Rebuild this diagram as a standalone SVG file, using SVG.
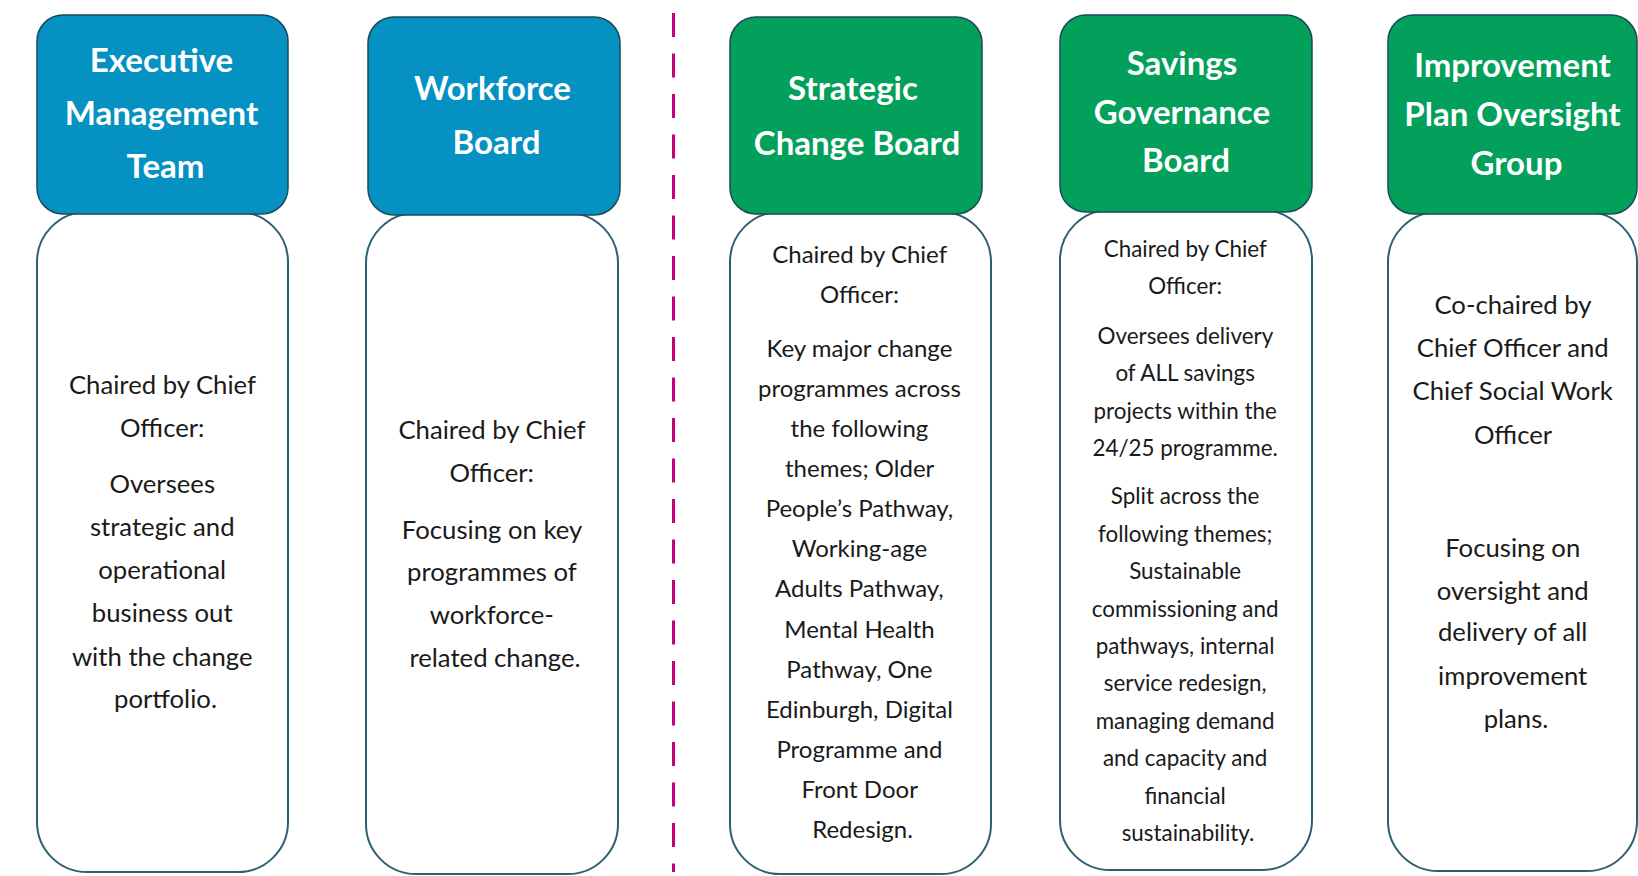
<svg xmlns="http://www.w3.org/2000/svg" width="1638" height="876" viewBox="0 0 1638 876">
  <style>
    .hdr-blue { fill: #0591C1; stroke: #1A4A5C; stroke-width: 1.5; }
    .hdr-green { fill: #03A05B; stroke: #1A4A5C; stroke-width: 1.5; }
    .body { fill: #FFFFFF; stroke: #2F5F73; stroke-width: 2; }
    .ht { font-family: Lato, "Liberation Sans", sans-serif; font-weight: 700; font-size: 33px; fill: #FFFFFF; text-anchor: middle; }
    .bt { font-family: Lato, "Liberation Sans", sans-serif; font-size: 25.7px; fill: #1A1A1A; text-anchor: middle; }
    .bt-m { font-size: 24px; }
    .bt-s { font-size: 22.4px; }
    .divider { stroke: #C4007A; stroke-width: 3; stroke-dasharray: 24 16.5; fill: none; }
  </style>

  <rect width="1638" height="876" fill="#FFFFFF"/>

  <!-- separator between the two groups of boards -->
  <g id="connectors">
    <line class="divider" x1="673.5" y1="13" x2="673.5" y2="872"/>
  </g>

  <!-- Executive Management Team -->
  <g id="executive-management-team">
    <rect class="body" x="37" y="212" width="251" height="660" rx="50" ry="50"/>
    <rect class="hdr-blue" x="37" y="15" width="251" height="199" rx="26" ry="26"/>
    <text class="ht">
      <tspan x="165.5" y="72">Executive</tspan>
      <tspan x="165.5" y="125">Management</tspan>
      <tspan x="165.5" y="178">Team</tspan>
    </text>
    <text class="bt">
      <tspan x="165.5" y="394">Chaired by Chief</tspan>
      <tspan x="165.5" y="437">Officer:</tspan>
      <tspan x="165.5" y="493">Oversees</tspan>
      <tspan x="165.5" y="536">strategic and</tspan>
      <tspan x="165.5" y="579">operational</tspan>
      <tspan x="165.5" y="622">business out</tspan>
      <tspan x="165.5" y="666">with the change</tspan>
      <tspan x="165.5" y="708">portfolio.</tspan>
    </text>
  </g>

  <!-- Workforce Board -->
  <g id="workforce-board">
    <rect class="body" x="366" y="213" width="252" height="661" rx="50" ry="50"/>
    <rect class="hdr-blue" x="368" y="17" width="252" height="198" rx="26" ry="26"/>
    <text class="ht">
      <tspan x="496.5" y="100">Workforce</tspan>
      <tspan x="496.5" y="154">Board</tspan>
    </text>
    <text class="bt">
      <tspan x="495" y="439">Chaired by Chief</tspan>
      <tspan x="495" y="482">Officer:</tspan>
      <tspan x="495" y="539">Focusing on key</tspan>
      <tspan x="495" y="581">programmes of</tspan>
      <tspan x="495" y="624">workforce-</tspan>
      <tspan x="495" y="667">related change.</tspan>
    </text>
  </g>

  <!-- Strategic Change Board -->
  <g id="strategic-change-board">
    <rect class="body" x="730" y="212" width="261" height="662" rx="50" ry="50"/>
    <rect class="hdr-green" x="730" y="17" width="252" height="197" rx="26" ry="26"/>
    <text class="ht">
      <tspan x="857" y="100">Strategic</tspan>
      <tspan x="857" y="155">Change Board</tspan>
    </text>
    <text class="bt bt-m">
      <tspan x="862.5" y="262.6">Chaired by Chief</tspan>
      <tspan x="862.5" y="303.3">Officer:</tspan>
      <tspan x="862.5" y="356.6">Key major change</tspan>
      <tspan x="862.5" y="396.7">programmes across</tspan>
      <tspan x="862.5" y="436.9">the following</tspan>
      <tspan x="862.5" y="477">themes; Older</tspan>
      <tspan x="862.5" y="517.1">People’s Pathway,</tspan>
      <tspan x="862.5" y="557.3">Working-age</tspan>
      <tspan x="862.5" y="597.4">Adults Pathway,</tspan>
      <tspan x="862.5" y="637.5">Mental Health</tspan>
      <tspan x="862.5" y="677.6">Pathway, One</tspan>
      <tspan x="862.5" y="717.8">Edinburgh, Digital</tspan>
      <tspan x="862.5" y="757.9">Programme and</tspan>
      <tspan x="862.5" y="798">Front Door</tspan>
      <tspan x="862.5" y="838.2">Redesign.</tspan>
    </text>
  </g>

  <!-- Savings Governance Board -->
  <g id="savings-governance-board">
    <rect class="body" x="1060" y="210" width="252" height="660" rx="50" ry="50"/>
    <rect class="hdr-green" x="1060" y="15" width="252" height="197" rx="26" ry="26"/>
    <text class="ht">
      <tspan x="1186" y="75">Savings</tspan>
      <tspan x="1186" y="124">Governance</tspan>
      <tspan x="1186" y="172">Board</tspan>
    </text>
    <text class="bt bt-s">
      <tspan x="1188" y="257">Chaired by Chief</tspan>
      <tspan x="1188" y="293.5">Officer:</tspan>
      <tspan x="1188" y="343.6">Oversees delivery</tspan>
      <tspan x="1188" y="381.2">of ALL savings</tspan>
      <tspan x="1188" y="418.8">projects within the</tspan>
      <tspan x="1188" y="456.4">24/25 programme.</tspan>
      <tspan x="1188" y="504.4">Split across the</tspan>
      <tspan x="1188" y="541.8">following themes;</tspan>
      <tspan x="1188" y="579.2">Sustainable</tspan>
      <tspan x="1188" y="616.6">commissioning and</tspan>
      <tspan x="1188" y="654">pathways, internal</tspan>
      <tspan x="1188" y="691.4">service redesign,</tspan>
      <tspan x="1188" y="728.8">managing demand</tspan>
      <tspan x="1188" y="766.2">and capacity and</tspan>
      <tspan x="1188" y="803.6">financial</tspan>
      <tspan x="1188" y="841">sustainability.</tspan>
    </text>
  </g>

  <!-- Improvement Plan Oversight Group -->
  <g id="improvement-plan-oversight-group">
    <rect class="body" x="1388" y="212" width="249" height="659" rx="50" ry="50"/>
    <rect class="hdr-green" x="1388" y="15" width="249" height="199" rx="26" ry="26"/>
    <text class="ht">
      <tspan x="1516.5" y="77">Improvement</tspan>
      <tspan x="1516.5" y="126">Plan Oversight</tspan>
      <tspan x="1516.5" y="175">Group</tspan>
    </text>
    <text class="bt">
      <tspan x="1516" y="314.3">Co-chaired by</tspan>
      <tspan x="1516" y="357.2">Chief Officer and</tspan>
      <tspan x="1516" y="400">Chief Social Work</tspan>
      <tspan x="1516" y="443.9">Officer</tspan>
      <tspan x="1516" y="556.7">Focusing on</tspan>
      <tspan x="1516" y="599.6">oversight and</tspan>
      <tspan x="1516" y="641.3">delivery of all</tspan>
      <tspan x="1516" y="685.2">improvement</tspan>
      <tspan x="1516" y="728">plans.</tspan>
    </text>
  </g>
</svg>
